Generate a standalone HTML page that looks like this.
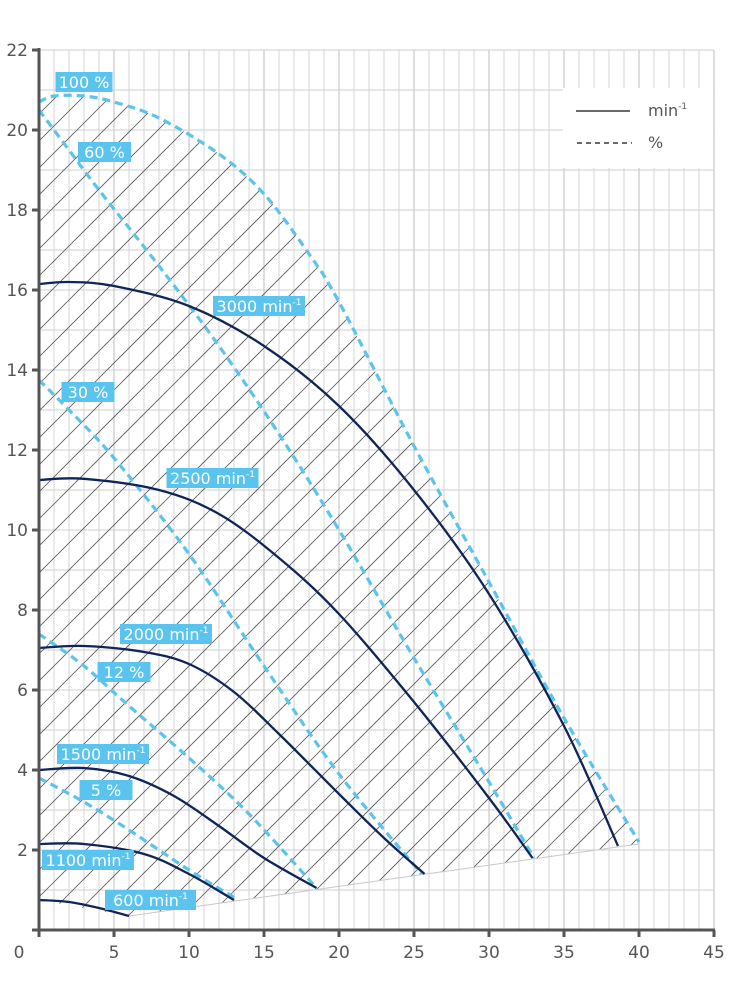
<!DOCTYPE html>
<html><head><meta charset="utf-8"><style>
body{margin:0;background:#fff;}
svg{display:block;font-family:"DejaVu Sans","Liberation Sans",sans-serif;}
</style></head><body>
<svg id="chart" width="730" height="1000" xmlns="http://www.w3.org/2000/svg">
<defs>
<clipPath id="hclip"><path id="hclipPath" d=""/></clipPath>
</defs>
<g id="grid"></g>
<g id="hatch" clip-path="url(#hclip)"></g>
<path id="bottomEdge" fill="none" stroke="#c8c8c8" stroke-width="1"/>
<g id="series"></g>
<g id="axes"></g>
<g id="labels"></g>
<g>
<rect x="563" y="88" width="150" height="80" fill="#fff"/>
<line x1="576" y1="111" x2="630" y2="111" stroke="#111" stroke-width="1.3"/>
<text x="648" y="116" font-size="16" fill="#555">min<tspan font-size="9" dy="-7">-1</tspan></text>
<line x1="577" y1="143" x2="632" y2="143" stroke="#111" stroke-width="1.3" stroke-dasharray="5,4"/>
<text x="648" y="148" font-size="16" fill="#555">%</text>
</g>
</svg>
<script>
const xTicks=[0,5,10,15,20,25,30,35,40,45];
const yTicks=[2,4,6,8,10,12,14,16,18,20,22];
const rpmNames=["3000","2500","2000","1500","1100","600"];
const rpm3000=[[0,16.15],[2,16.2],[5,16.1],[10,15.6],[15,14.6],[20,13.1],[25,11.0],[30,8.4],[35,5.1],[38.6,2.1]];
const rpm2500=[[0,11.25],[3,11.28],[8,11.0],[12,10.4],[16,9.3],[20,7.9],[25,5.7],[30,3.3],[32.9,1.8]];
const rpm2000=[[0,7.05],[3,7.1],[7,6.95],[10,6.65],[13,5.95],[16,4.9],[20,3.4],[23,2.3],[25.7,1.4]];
const rpm1500=[[0,4.0],[3,4.05],[6,3.85],[9,3.35],[12,2.6],[15,1.8],[18.5,1.05]];
const rpm1100=[[0,2.15],[3,2.15],[7,1.9],[10,1.4],[13,0.75]];
const rpm600=[[0,0.75],[2,0.7],[4,0.55],[6,0.35]];
const pct100=[[0,20.7],[1,20.85],[3,20.85],[5,20.7],[8,20.3],[12,19.4],[15,18.4],[18,16.9],[20,15.7],[25,12.1],[30,8.7],[35,5.3],[40,2.2]];
const pct60=[[0,20.5],[2,19.5],[4,18.5],[8,16.6],[12,14.6],[16,12.4],[20,10.0],[25,6.8],[30,3.7],[33,1.8]];
const pct30=[[0,13.75],[2,13.0],[5,11.8],[10,9.4],[15,6.6],[20,3.9],[25.5,1.4]];
const pct12=[[0,7.4],[3,6.6],[6,5.6],[10,4.3],[14,2.9],[18.5,1.05]];
const pct5=[[0,3.8],[3,3.2],[6,2.5],[10,1.5],[13.3,0.75]];
const bottomLine=[[6,0.35],[40,2.15]];
const labelTexts=["100 %","60 %","3000 min","30 %","2500 min","2000 min","12 %","1500 min","5 %","1100 min","600 min"];
const labelAnchors=[[1.1,21.2],[2.6,19.45],[11.6,15.6],[1.5,13.45],[8.5,11.3],[5.4,7.4],[3.9,6.45],[1.2,4.4],[2.7,3.5],[0.2,1.75],[4.4,0.75]];

const X=v=>39+v*15, Y=v=>930-v*40;
const NS="http://www.w3.org/2000/svg";
function mk(tag,attrs,parent){const e=document.createElementNS(NS,tag);for(const k in attrs)e.setAttribute(k,attrs[k]);parent.appendChild(e);return e;}
function smooth(pts){const p=pts.map(d=>[X(d[0]),Y(d[1])]);let s="M"+p[0][0]+","+p[0][1];
 for(let i=0;i<p.length-1;i++){const p0=p[i-1]||p[i],p1=p[i],p2=p[i+1],p3=p[i+2]||p2;
 const c1=[p1[0]+(p2[0]-p0[0])/6,p1[1]+(p2[1]-p0[1])/6],c2=[p2[0]-(p3[0]-p1[0])/6,p2[1]-(p3[1]-p1[1])/6];
 s+=` C${c1[0]},${c1[1]} ${c2[0]},${c2[1]} ${p2[0]},${p2[1]}`;}return s;}

const grid=document.getElementById('grid');
for(let i=1;i<=45;i++){const l=mk('line',{x1:X(i),x2:X(i),y1:Y(22),y2:Y(0),stroke:i%5==0?'#bdbdbd':'#d6d6d6','stroke-width':1},grid);

}
for(let j=1;j<=22;j++){const l=mk('line',{x1:X(0),x2:X(45),y1:Y(j),y2:Y(j),stroke:'#cfcfcf','stroke-width':1},grid);

}

const topPath=smooth(pct100);
const clipD=topPath+` L${X(bottomLine[1][0])},${Y(bottomLine[1][1])} L${X(bottomLine[0][0])},${Y(bottomLine[0][1])} L${X(rpm600[0][0])},${Y(rpm600[0][1])} L${X(0)},${Y(pct100[0][1])} Z`;
document.getElementById('hclipPath').setAttribute('d',clipD);
const hatch=document.getElementById('hatch');
for(let c=60;c<1700;c+=27){const l=mk('line',{x1:X(0),y1:c,x2:X(0)+1000,y2:c-1000,stroke:'#555','stroke-width':0.8},hatch);

}
const be=document.getElementById('bottomEdge');
be.setAttribute('d',`M${X(bottomLine[0][0])},${Y(bottomLine[0][1])} L${X(bottomLine[1][0])},${Y(bottomLine[1][1])}`);

const series=document.getElementById('series');
[[pct100,'pct-100'],[pct60,'pct-60'],[pct30,'pct-30'],[pct12,'pct-12'],[pct5,'pct-5']].forEach(([d,n])=>{
 const p=mk('path',{d:smooth(d),fill:'none',stroke:'#5bc4ee','stroke-width':3.2,'stroke-dasharray':'8,5'},series);
 
 });
[rpm3000,rpm2500,rpm2000,rpm1500,rpm1100,rpm600].forEach((d,i)=>{
 const p=mk('path',{d:smooth(d),fill:'none',stroke:'#0f2557','stroke-width':2.3},series);
 
 });

const axes=document.getElementById('axes');
const ya=mk('line',{x1:X(0),x2:X(0),y1:Y(22)-2,y2:Y(0)+7,stroke:'#555','stroke-width':3},axes);


const xa=mk('line',{x1:X(0)-7,x2:X(45)+1,y1:Y(0),y2:Y(0),stroke:'#555','stroke-width':3},axes);


xTicks.forEach(t=>{
 const tk=mk('line',{x1:X(t),x2:X(t),y1:Y(0),y2:Y(0)+7,stroke:'#555','stroke-width':3},axes);
 
 
 const tx=mk('text',{x:t==0?X(t)-20:X(t),y:958,'text-anchor':'middle','font-size':17,fill:'#555'},axes);tx.textContent=t;
 
 });
yTicks.forEach(t=>{
 const tk=mk('line',{x1:X(0)-7,x2:X(0),y1:Y(t),y2:Y(t),stroke:'#555','stroke-width':3},axes);
 
 
 const tx=mk('text',{x:28,y:Y(t)+6,'text-anchor':'end','font-size':17,fill:'#555'},axes);tx.textContent=t;
 
 });

const labels=document.getElementById('labels');
labelTexts.forEach((t,i)=>{
 const isRpm=t.indexOf('min')>=0;const w=isRpm?(t.length>7?92:91):(t.length>4?57:53);
 const x=X(labelAnchors[i][0]),y=Y(labelAnchors[i][1]);
 const g=mk('g',{},labels);
 
 
 mk('rect',{x:x,y:y-10,width:w,height:20,fill:'#5bc4ee'},g);
 const tx=mk('text',{x:x+w/2,y:y+6,'text-anchor':'middle','font-size':16,fill:'#fff'},g);
 tx.textContent=t;
 if(isRpm){const s=mk('tspan',{'font-size':9,dy:-7},tx);s.textContent='-1';}
});
</script>
</body></html>
